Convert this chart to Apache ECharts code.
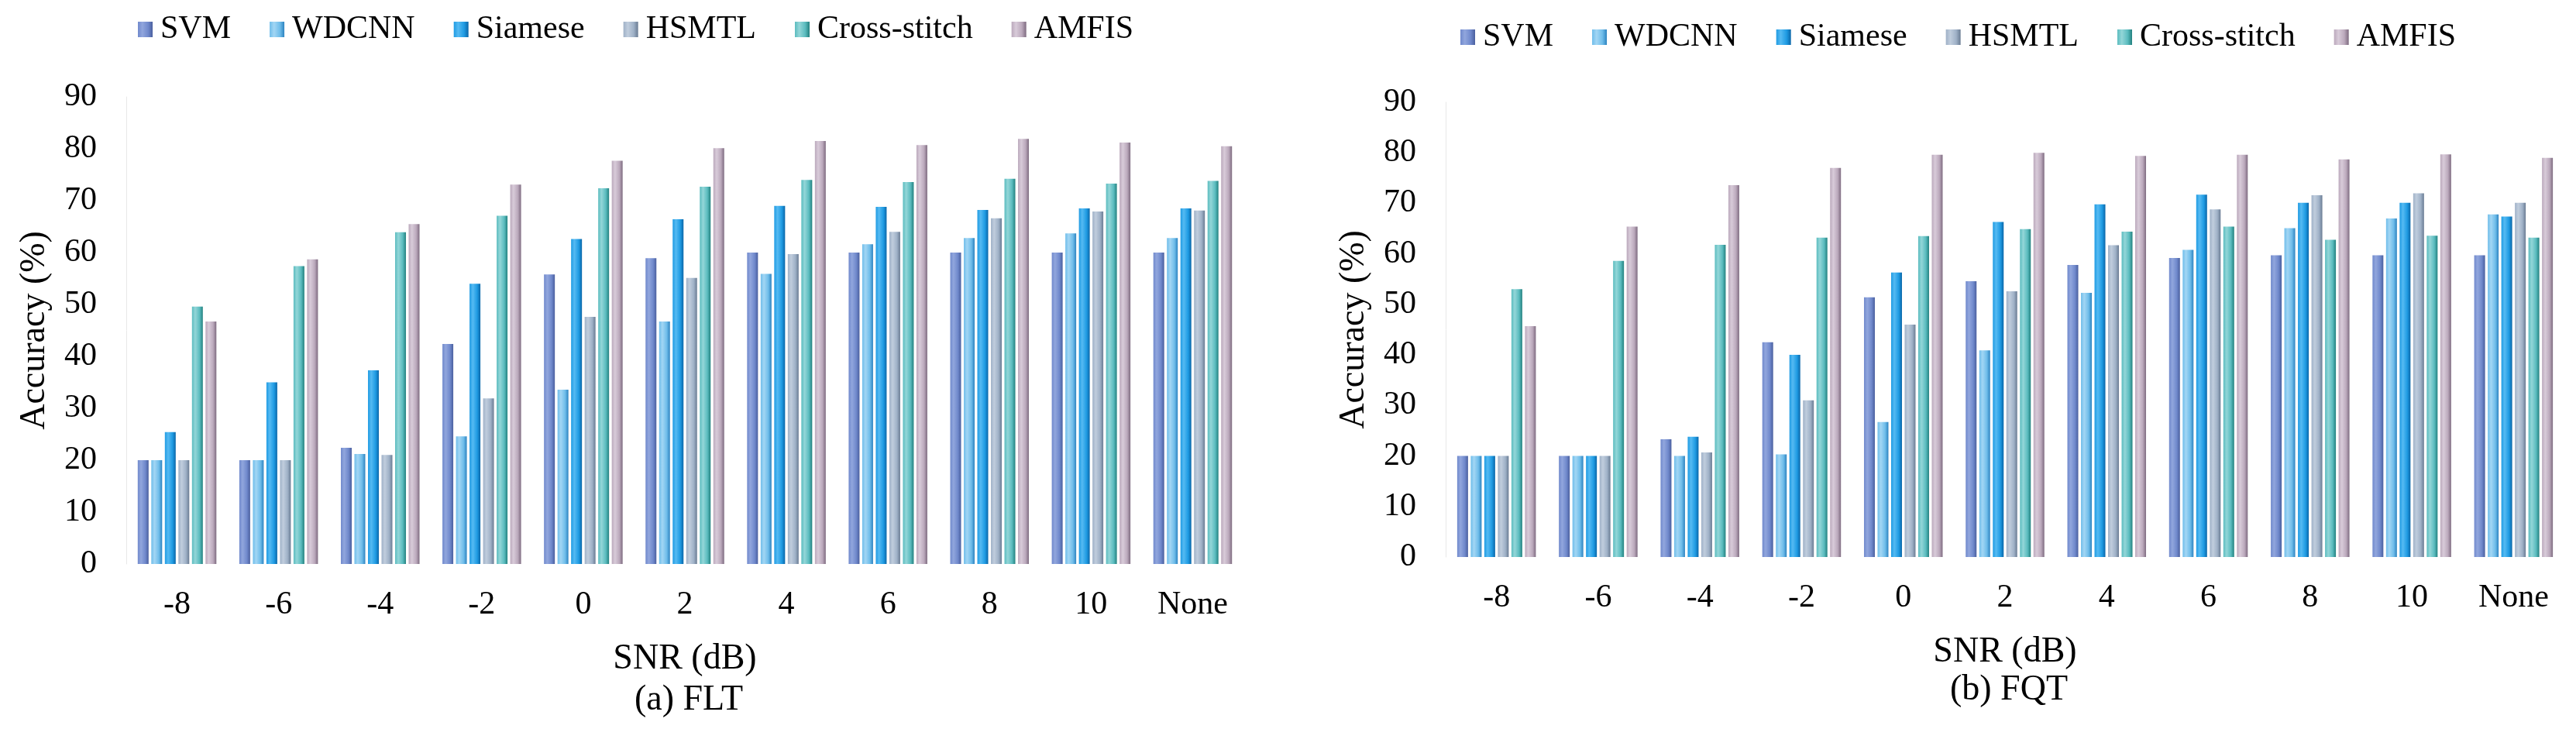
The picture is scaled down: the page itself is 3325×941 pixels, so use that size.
<!DOCTYPE html>
<html>
<head>
<meta charset="utf-8">
<script src="https://cdn.jsdelivr.net/npm/echarts@6/dist/echarts.min.js"></script>
<style>
html,body{margin:0;padding:0;background:#fff;}
#chart{width:3325px;height:941px;}
</style>
</head>
<body>
<div id="chart"></div>
<script>
// ---- data ----
const categories = ['-8','-6','-4','-2','0','2','4','6','8','10','None'];
const methods = ['SVM','WDCNN','Siamese','HSMTL','Cross-stitch','AMFIS'];
const yTicks = [0,10,20,30,40,50,60,70,80,90];

// (a) FLT
const fltSVM     = [20, 20, 22.4, 42.4, 55.8, 58.9, 60, 60, 60, 60, 60];
const fltWDCNN   = [20, 20, 21.2, 24.6, 33.6, 46.7, 55.9, 61.6, 62.8, 63.7, 62.8];
const fltSiamese = [25.4, 35, 37.3, 54, 62.6, 66.4, 69, 68.8, 68.2, 68.5, 68.5];
const fltHSMTL   = [20, 20, 21, 31.9, 47.6, 55.1, 59.7, 64, 66.6, 67.9, 68.1];
const fltCross   = [49.6, 57.4, 63.9, 67.1, 72.4, 72.7, 74, 73.6, 74.2, 73.3, 73.8];
const fltAMFIS   = [46.7, 58.7, 65.5, 73.1, 77.7, 80.1, 81.5, 80.7, 81.9, 81.2, 80.5];

// (b) FQT
const fqtSVM     = [20, 20, 23.3, 42.5, 51.4, 54.6, 57.8, 59.2, 59.7, 59.7, 59.7];
const fqtWDCNN   = [20, 20, 20, 20.3, 26.7, 40.9, 52.3, 60.8, 65.1, 67, 67.8];
const fqtSiamese = [20, 20, 23.8, 40, 56.3, 66.3, 69.8, 71.7, 70.1, 70.1, 67.4];
const fqtHSMTL   = [20, 20, 20.7, 31, 46, 52.6, 61.7, 68.8, 71.6, 72, 70.1];
const fqtCross   = [53, 58.6, 61.8, 63.2, 63.5, 64.9, 64.4, 65.4, 62.8, 63.6, 63.2];
const fqtAMFIS   = [45.7, 65.4, 73.6, 77, 79.6, 80, 79.4, 79.6, 78.7, 79.7, 79];

const fltData = [fltSVM, fltWDCNN, fltSiamese, fltHSMTL, fltCross, fltAMFIS];
const fqtData = [fqtSVM, fqtWDCNN, fqtSiamese, fqtHSMTL, fqtCross, fqtAMFIS];

// ---- styles ----
const shades = [
  ['#91a6dd', '#7089cc', '#4a5f9e'],
  ['#a2d6f4', '#6fbdea', '#2d83c0'],
  ['#55baf2', '#1f9be3', '#0a66a8'],
  ['#c0cddd', '#9fb1c7', '#6a7c93'],
  ['#93d6d8', '#5bbcbf', '#23817f'],
  ['#d8cbd9', '#bba9bc', '#7e6b80']
];
function grad(s) {
  return new echarts.graphic.LinearGradient(0, 0, 1, 0, [
    {offset: 0, color: s[1]},
    {offset: 0.3, color: s[0]},
    {offset: 0.7, color: s[1]},
    {offset: 1, color: s[2]}
  ]);
}
const FONT = 'Liberation Serif';
const txt = {color: '#000', fontFamily: FONT};

function makeSeries(dataArr, idx) {
  return methods.map((m, i) => ({
    name: m,
    type: 'bar',
    xAxisIndex: idx,
    yAxisIndex: idx,
    data: dataArr[i],
    barWidth: 14,
    barGap: '25%',
    itemStyle: {color: grad(shades[i])},
    emphasis: {disabled: true}
  }));
}

function xAx(idx) {
  return {
    type: 'category', gridIndex: idx, data: categories,
    axisLine: {show: false}, axisTick: {show: false},
    axisLabel: Object.assign({fontSize: 42, margin: 32}, txt),
    name: 'SNR (dB)', nameLocation: 'middle', nameGap: 100,
    nameTextStyle: Object.assign({fontSize: 46}, txt)
  };
}
function yAx(idx) {
  return {
    type: 'value', gridIndex: idx, min: 0, max: 90, interval: 10,
    splitLine: {show: false},
    axisLine: {show: true, lineStyle: {color: '#e8e8e8', width: 1}},
    axisTick: {show: false},
    axisLabel: Object.assign({fontSize: 42, margin: 38, formatter: v => yTicks.includes(v) ? String(v) : ''}, txt),
    name: 'Accuracy (%)', nameLocation: 'middle', nameGap: 95,
    nameTextStyle: Object.assign({fontSize: 46}, txt)
  };
}
function legend(left, top) {
  return {
    data: methods, left: left, top: top, icon: 'rect',
    itemWidth: 19, itemHeight: 20, itemGap: 50,
    textStyle: Object.assign({fontSize: 42, padding: [0, 0, 0, 5]}, txt),
    selectedMode: false
  };
}

const chart = echarts.init(document.getElementById('chart'), null, {renderer: 'canvas'});
chart.setOption({
  backgroundColor: '#fff',
  animation: false,
  title: [
    {text: '(a) FLT', left: 884, top: 876, textAlign: 'center', textStyle: Object.assign({fontSize: 46, fontWeight: 'normal'}, txt)},
    {text: '(b) FQT', left: 2588, top: 863, textAlign: 'center', textStyle: Object.assign({fontSize: 46, fontWeight: 'normal'}, txt)}
  ],
  legend: [legend(173, 12), legend(1880, 22)],
  grid: [
    {left: 163, right: 1720, top: 125, bottom: 213},
    {left: 1866, right: 15, top: 132, bottom: 222}
  ],
  xAxis: [xAx(0), xAx(1)],
  yAxis: [yAx(0), yAx(1)],
  series: makeSeries(fltData, 0).concat(makeSeries(fqtData, 1))
});
</script>
</body>
</html>
